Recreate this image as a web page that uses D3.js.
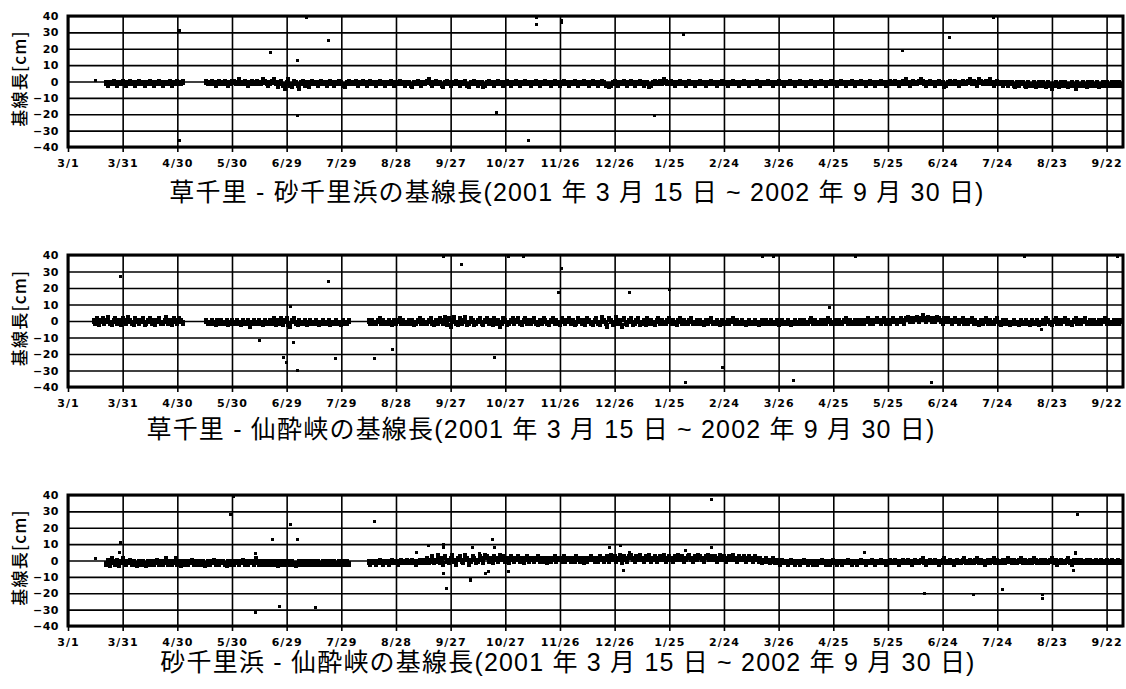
<!DOCTYPE html>
<html>
<head>
<meta charset="utf-8">
<script src="https://cdn.jsdelivr.net/npm/d3@7.9.0/dist/d3.min.js"></script>
<style>
  body { margin: 0; background: #fff; }
  svg { display: block; }
</style>
</head>
<body>
<svg width="1126" height="689"></svg>
<script>
// x tick dates (every 30 days) and y ticks
const tickDates = ["2001-03-01","2001-03-31","2001-04-30","2001-05-30","2001-06-29","2001-07-29",
  "2001-08-28","2001-09-27","2001-10-27","2001-11-26","2001-12-26","2002-01-25","2002-02-24",
  "2002-03-26","2002-04-25","2002-05-25","2002-06-24","2002-07-24","2002-08-23","2002-09-22"];
const yTicks = [-40, -30, -20, -10, 0, 10, 20, 30, 40];

const titles = [
  "草千里 - 砂千里浜の基線長(2001 年 3 月 15 日 ~ 2002 年 9 月 30 日)",
  "草千里 - 仙酔峡の基線長(2001 年 3 月 15 日 ~ 2002 年 9 月 30 日)",
  "砂千里浜 - 仙酔峡の基線長(2001 年 3 月 15 日 ~ 2002 年 9 月 30 日)"
];

// daily values [cm], one per day from the segment start date
const p1StartA = "2001-03-22";
const p1A = [
  -1,-2,-1,-1,0,-1,-2,-1,-1,0,
  -1,-2,-1,0,-1,-1,-2,-1,0,-1,
  -1,-2,-1,-1,0,-1,-2,-1,-1,0,
  -1,-2,-1,-1,-1,0,-2,-1,-1,0,
  -1,-1,0];
const p1StartB = "2001-05-16";
const p1B = [
  0,-1,-1,0,-1,-2,-1,0,-1,-1, 0,-1,-2,-1,0,0,-1,-1,1,-1,
  -1,0,-1,-2,-1,0,-1,-1,0,-1, -1,1,0,-1,-2,-1,0,1,-1,-3,
  -1,0,-2,-4,-1,1,-2,-3,0,-1, -2,-4,-1,0,-2,-1,-3,-1,0,-1,
  -1,-2,-1,0,-1,-1,-2,-1,0,-1, -2,-1,-1,0,-1,-2,-3,-1,0,-1,
  -1,-1,0,-2,-1,-1,0,-1,-2,-1, 0,-1,-1,-2,-1,0,-1,-1,-2,-1,
  -1,0,-1,-2,-1,-1,0,-1,-1,-2, -1,-1,-2,-3,-1,-1,0,-1,-2,-1,
  -1,0,1,-1,-2,-1,0,-1,-1,-2, -3,-1,0,-1,-2,-1,-1,0,-1,-2,
  -1,-1,0,-2,-3,-1,-1,0,-1,-2, -1,-1,-3,-2,-1,0,-1,-1,-2,-1,
  0,-1,-1,-2,-1,0,-1,-2,-1,-1, 0,-1,-2,-1,-1,0,-1,-1,-2,-1,
  -1,0,-1,-2,-1,-1,0,-1,-1,-2, -1,0,-1,-1,-2,-1,0,-1,-1,-2,
  -1,-1,0,-1,-2,-1,-1,0,-1,-1, -2,-1,0,-1,-1,-2,-1,0,-1,-2,
  -2,-3,-2,-1,0,-1,-2,-1,-1,0, -1,-2,-1,0,-1,-2,-1,-1,0,-1,
  -2,-1,-1,-3,-2,-1,0,-1,-1,0, -1,1,0,-1,-1,0,-1,-2,-1,-1,
  0,-1,-1,-2,-1,0,-1,-1,-2,-1, -1,0,-1,-1,-2,-1,-1,0,-1,-1,
  -2,-1,-1,0,-1,-1,-2,-1,-1,0, -1,-1,-2,-1,-1,0,-1,-1,-2,-1,
  -1,-1,0,-1,-2,-1,-1,-1,0,-1, -1,-2,-1,-1,0,-1,-1,-2,-1,-1,
  0,-1,-1,-2,-1,-1,0,-1,-1,-2, -1,-1,0,-1,-2,-1,-1,0,-1,-1,
  -2,-1,-1,0,-1,-1,-2,-1,0,-1, -1,-2,-1,-1,0,-1,-2,-1,-1,0,
  -1,-1,-2,-1,0,-1,-1,-2,-1,-1, 0,-1,-1,-2,-1,0,-1,-1,0,-1,
  -2,-1,0,-1,1,-1,-2,-1,0,-1, -1,0,1,0,-1,-2,-1,0,-1,-1,
  -2,-1,0,-1,-1,-3,-2,-1,0,-1, -1,0,-1,-2,-1,0,-1,-1,0,1,
  -1,0,-1,-2,1,0,-1,-1,0,-1, 1,-1,-2,-1,0,-1,-1,-2,-1,-1,
  -2,-1,-1,-2,-3,-1,-2,-1,-1,-2, -3,-1,-2,-2,-1,-3,-2,-1,-2,-1,
  -2,-3,-1,-2,-4,-2,-1,-2,-3,-1, -2,-1,-2,-3,-2,-1,-2,-4,-1,-2,
  -2,-1,-2,-3,-1,-2,-1,-2,-2,-1, -3,-2,-1,-2,-1,-2,-2,-1,-2,-1,
  -2,-1,-2];
// isolated points and outliers [date, cm]
const p1Out = [
  ["2001-03-16",0.5],["2001-05-01",31],["2001-05-01",-36],["2001-06-20",18],["2001-07-05",13],
  ["2001-07-05",-21],["2001-07-10",39],["2001-07-22",25],["2001-10-22",-19],["2001-11-09",-36],
  ["2001-11-13",39],["2001-11-13",35],["2001-11-27",36],["2001-11-27",37],["2002-01-17",-21],
  ["2002-02-02",29],["2002-06-02",19],["2002-06-28",27],["2002-07-22",39]];

const p2StartA = "2001-03-15";
const p2A = [
  0,-1,1,-2,0,1,-1,0,2,-1,
  -2,0,1,-1,0,-2,1,0,-1,2,
  0,-1,-2,1,0,-1,0,1,-2,-1,
  0,1,-1,0,-2,0,1,-1,-1,0,
  2,-1,0,-2,1,0,-1,1,0,-1];
const p2StartB = "2001-05-16";
const p2B = [
  0,-1,-1,0,-1,-2,0,-1,0,-1,
  -1,0,-2,-1,0,-1,-1,0,-1,-2,
  0,-1,-1,0,-3,-1,0,-1,-1,0,
  -1,-2,0,-1,-1,0,-1,1,-2,0,
  -1,1,-2,0,1,-2,-3,0,1,-1,
  -2,0,-1,-1,0,-2,-1,0,-1,-1,
  0,-1,-2,-1,0,-1,-1,0,-2,-1,
  -1,0,-1,-1,-2,0,-1,-1,0];
const p2StartC = "2001-08-13";
const p2C = [
  0,-1,0,-1,-1,0,1,-1,0,-1, -1,0,-1,-2,0,-1,0,1,-1,0,
  -1,-1,0,-1,0,-2,-1,0,1,-1, 0,-1,-1,0,1,-1,-2,0,-1,1,
  0,-1,2,-2,1,-3,0,2,-1,-2, 1,-1,0,2,-2,-1,1,0,-2,-1,
  0,1,-1,-2,0,1,-1,0,-2,1, -1,0,-3,-1,1,0,-2,-1,0,1,
  -1,0,1,-1,-2,0,1,-1,0,-1, 0,1,-1,-2,0,-1,1,0,-1,-2,
  0,1,-1,0,-1,-2,1,0,-1,0, 1,-1,0,-2,-1,1,0,-1,0,-2,
  1,0,-1,-2,0,1,-1,-2,2,0, -1,-3,1,0,-2,-1,2,-1,0,-3,
  1,-1,-2,0,1,-2,-1,0,1,-2, -1,0,-2,1,-1,0,-1,-2,0,1,
  -1,0,-1,-1,0,1,-1,0,-1,-2, 0,1,-1,0,-1,-1,0,1,-1,-1,
  0,-1,0,-1,-2,0,-1,0,1,-1, -1,0,-1,-2,0,-1,-1,0,-1,0,
  1,-1,0,-1,-1,0,-1,-2,-1,0, -1,-1,0,-1,-2,-1,0,-1,0,-1,
  -1,0,-1,-1,0,-2,-1,0,-1,-1, 0,-1,-2,-1,0,-1,-1,0,-1,0,
  -1,-1,0,1,-1,0,-1,-1,0,-1, 0,-1,1,0,-1,-1,0,-1,0,-1,
  -1,0,1,-1,0,-1,-1,0,-1,0, -1,0,-1,0,1,-1,0,-1,0,1,
  0,-1,0,1,-1,0,-1,0,1,0, -1,0,1,0,-1,1,2,0,1,0,
  1,2,0,1,3,1,0,2,1,0, 1,0,2,1,0,-1,1,0,1,0,
  -1,0,1,0,-1,0,1,-1,0,-1, 0,1,-1,0,-1,-2,0,-1,0,1,
  -1,0,-1,-1,0,1,-1,-2,0,-1, 0,-1,-2,-1,0,-1,-1,-2,0,-1,
  -1,0,-1,-2,0,-1,-1,0,-2,-1, 0,-1,1,0,-1,-2,0,1,-1,0,
  -1,0,1,-1,0,-1,-2,0,1,-1, 0,-1,0,1,-1,-1,0,-1,0,-1,
  -1,0,-1,0,1,-1,0,-1,-1,0, -1,0,-1,0];
const p2Out = [
  ["2001-03-30",27],["2001-06-14",-12],["2001-06-27",-22],["2001-06-29",-25],["2001-07-01",9],
  ["2001-07-03",-13],["2001-07-05",-30],["2001-07-22",24],["2001-07-26",-23],["2001-08-16",-23],
  ["2001-08-26",-17],["2001-09-23",39],["2001-10-03",34],["2001-10-21",-22],["2001-10-29",39],
  ["2001-11-06",39],["2001-11-25",17],["2001-11-27",32],["2002-01-03",17],["2002-01-25",19],
  ["2002-02-03",-37],["2002-02-23",-28],["2002-03-17",39],["2002-03-23",39],["2002-04-03",-36],
  ["2002-04-23",8],["2002-05-07",39],["2002-06-18",-37],["2002-08-08",39],["2002-08-17",-5],
  ["2002-09-28",39]];

const p3StartA = "2001-03-22";
const p3A = [
  -2,0,-3,1,-1,-2,0,-3,-1,1,
  -1,-2,-1,0,-2,-1,-2,-3,-1,-2,
  -1,-2,-3,-1,-2,-1,-2,-1,0,-2,
  -1,-2,-1,1,-2,-1,-2,-1,1,-2,
  -1,-3,-1,-2,-1,-2,-1,0,-2,-1,
  -2,-1,-2,-1,-3,-2,-1,-2,-1,0,
  -2,-1,-2,-1,-1,-2,-3,-1,-2,-1,
  -2,-1,-1,-2,-1,0,-2,-1,-2,-1,
  -1,-2,1,-1,-2,-1,-2,-1,-2,-1,
  -2,-1,-2,-1,-3,-1,-2,-1,-2,-1,
  -1,-2,-1,-2,-3,-2,-1,-2,-1,-2,
  -1,-2,-1,-2,-1,-2,-1,-2,-2,-1,
  -2,-1,-2,-1,-2,-1,-2,-2,-1,-2,
  -1,-2,-1,-2];
const p3StartB = "2001-08-13";
const p3B = [
  -1,-2,-1,-1,-2,-1,0,-1,-2,-1, -1,-2,-1,0,-1,-1,-2,-1,0,-1,
  -1,0,-1,-1,0,-1,-2,-1,0,-1, 0,-1,1,-1,0,2,-1,0,3,-1,
  1,-2,2,0,-1,1,3,0,-2,1, 2,0,-1,3,1,-2,0,2,1,-1,
  0,2,1,-1,3,2,0,1,-1,2, 1,0,3,1,2,0,1,-1,2,1,
  0,1,2,0,1,-1,1,2,0,1, 1,0,1,2,0,1,0,1,-1,1,
  0,1,2,0,1,1,0,2,0,1, 1,0,1,0,2,1,0,1,-1,1,
  0,1,2,1,0,1,0,2,1,0, 1,2,0,3,1,2,0,1,3,-1,
  2,1,0,2,3,1,0,2,1,3, 1,0,2,1,3,0,1,2,0,1,
  2,1,3,0,1,2,1,0,2,1, 3,1,2,0,1,2,3,1,0,2,
  1,3,2,1,0,2,3,1,2,1, 2,0,1,3,1,2,0,1,2,1,
  3,1,0,2,1,1,2,0,1,2, 1,0,2,1,0,1,-1,0,1,0,
  -1,0,1,-1,0,-1,-2,0,-1,-1, -2,-1,0,-1,-2,-1,-1,-2,-1,0,
  -1,-2,-1,-1,-2,-1,-2,-1,-1,0, -1,-2,-1,-2,-1,0,-1,-2,-1,-1,
  -2,-1,-1,0,-1,-2,-1,-1,-2,-1, 0,-1,-1,-2,-1,-1,0,-1,-2,-1,
  -1,0,-1,-1,-2,-1,0,-1,-1,0, -1,-2,-1,0,-1,-1,0,-1,-2,-1,
  0,-1,-1,0,1,-1,-2,-1,0,-1, -1,0,-1,-2,-1,0,1,-1,-1,0,
  -1,-2,-1,0,-1,-1,0,1,-1,-1, 0,-1,-1,0,1,-1,0,-1,-2,-1,
  0,-1,0,1,-1,0,-1,-1,0,-1, 0,1,0,-1,0,-1,-1,0,1,-1,
  0,-1,-1,0,-1,1,0,-1,-1,0, -1,0,-1,-1,0,1,-1,0,-2,-1,
  0,-1,-1,0,1,-1,-2,0,-1,0, -1,0,-1,-1,0,-1,0,-1,-1,0,
  -1,-1,0,-1,-1,0,-1,-1,0,-1, -1,0,-1,-1];
const p3Out = [
  ["2001-03-16",1],["2001-03-29",5],["2001-03-30",11],["2001-05-29",28],["2001-05-31",39],
  ["2001-06-12",-32],["2001-06-12",4],["2001-06-21",13],["2001-06-25",-28],["2001-07-01",22],
  ["2001-07-05",13],["2001-07-15",-29],["2001-08-16",24],["2001-09-08",5],["2001-09-15",9],
  ["2001-09-23",8],["2001-09-23",10],["2001-09-23",-8],["2001-09-25",-17],["2001-10-08",-11],
  ["2001-10-08",-12],["2001-10-09",8],["2001-10-13",4],["2001-10-16",-8],["2001-10-18",-7],
  ["2001-10-20",13],["2001-10-21",8],["2001-10-29",-7],["2001-12-23",8],["2001-12-29",9],
  ["2001-12-31",-6],["2002-01-03",5],["2002-02-03",6],["2002-02-17",37],["2002-02-17",8],
  ["2002-05-12",5],["2002-06-14",-20],["2002-07-11",-21],["2002-07-27",-18],["2002-08-18",-21],
  ["2002-08-18",-23],["2002-09-04",-6],["2002-09-05",4],["2002-09-05",5],["2002-09-06",28]];

const parse = d3.utcParse("%Y-%m-%d");
const svg = d3.select("svg");
const left = 68, right = 1123;

const x = d3.scaleUtc()
  .domain([parse("2001-03-01"), parse("2002-10-01")])
  .range([left, right]);
const ticks = tickDates.map(parse);

const panels = [
  {title: titles[0], segs: [[p1StartA, p1A], [p1StartB, p1B]], out: p1Out, top: 16, bottom: 147, tx: 577, ty: 192},
  {title: titles[1], segs: [[p2StartA, p2A], [p2StartB, p2B], [p2StartC, p2C]], out: p2Out, top: 255, bottom: 387, tx: 541, ty: 429},
  {title: titles[2], segs: [[p3StartA, p3A], [p3StartB, p3B]], out: p3Out, top: 495, bottom: 626, tx: 568, ty: 662}
];

function expand(start, vals) {
  const s = parse(start);
  return vals.map((v, i) => ({date: d3.utcDay.offset(s, i), v}));
}

const lineW = 1.6;

panels.forEach(p => {
  const y = d3.scaleLinear().domain([-40, 40]).range([p.bottom, p.top]);
  const g = svg.append("g");

  // grid lines
  const gx = g.append("g")
    .attr("transform", `translate(0,${p.bottom})`)
    .call(d3.axisBottom(x).tickValues(ticks).tickSize(-(p.bottom - p.top)).tickFormat(""));
  gx.select(".domain").remove();
  gx.selectAll("line").attr("stroke", "#000").attr("stroke-width", lineW);

  const gy = g.append("g")
    .attr("transform", `translate(${left},0)`)
    .call(d3.axisLeft(y).tickValues(yTicks).tickSize(-(right - left)).tickFormat(""));
  gy.select(".domain").remove();
  gy.selectAll("line").attr("stroke", "#000").attr("stroke-width", lineW);

  // daily band points
  const band = p.segs.flatMap(([s, v]) => expand(s, v));
  g.selectAll("rect.band").data(band).join("rect")
    .attr("class", "band")
    .attr("x", d => Math.round(x(d.date) - 2))
    .attr("y", d => Math.round(y(d.v) - 3))
    .attr("width", 4)
    .attr("height", 6)
    .attr("shape-rendering", "crispEdges")
    .attr("fill", "#000");

  // isolated points / outliers
  const out = p.out.map(([d, v]) => ({date: parse(d), v}));
  g.selectAll("rect.out").data(out).join("rect")
    .attr("class", "out")
    .attr("x", d => Math.round(x(d.date) - 1.5))
    .attr("y", d => Math.round(y(d.v) - 1.5))
    .attr("width", 3)
    .attr("height", 3)
    .attr("shape-rendering", "crispEdges")
    .attr("fill", "#000");

  // frame
  g.append("rect")
    .attr("x", left).attr("y", p.top)
    .attr("width", right - left).attr("height", p.bottom - p.top)
    .attr("fill", "none").attr("stroke", "#000").attr("stroke-width", 3);

  // x tick labels
  const xa = g.append("g")
    .attr("transform", `translate(0,${p.bottom})`)
    .call(d3.axisBottom(x).tickValues(ticks).tickSize(5).tickPadding(7)
      .tickFormat(d3.utcFormat("%-m/%-d")));
  xa.select(".domain").remove();
  xa.selectAll("line").attr("stroke", "#000").attr("stroke-width", lineW);
  xa.selectAll("text")
    .attr("font-family", "DejaVu Sans, sans-serif")
    .attr("font-size", 11)
    .attr("font-weight", "bold")
    .attr("letter-spacing", 1)
    .attr("fill", "#000");

  // y tick labels
  const ya = g.append("g")
    .attr("transform", `translate(${left},0)`)
    .call(d3.axisLeft(y).tickValues(yTicks).tickSize(0).tickPadding(9));
  ya.select(".domain").remove();
  ya.selectAll("text")
    .attr("font-family", "DejaVu Sans, sans-serif")
    .attr("font-size", 11)
    .attr("font-weight", "bold")
    .attr("letter-spacing", 0.5)
    .attr("fill", "#000");

  // y axis label
  g.append("text")
    .attr("transform", `translate(20,${(p.top + p.bottom) / 2 - 3}) rotate(-90)`)
    .attr("text-anchor", "middle")
    .attr("dy", "0.35em")
    .attr("font-family", "Noto Sans CJK JP, sans-serif")
    .attr("font-size", 17)
    .attr("font-weight", 500)
    .attr("letter-spacing", 1.2)
    .text("基線長[cm]");

  // title
  g.append("text")
    .attr("x", p.tx).attr("y", p.ty)
    .attr("dy", "0.35em")
    .attr("text-anchor", "middle")
    .attr("font-family", "Liberation Sans, Noto Sans CJK JP, sans-serif")
    .attr("font-size", 25)
    .attr("letter-spacing", 1.2)
    .text(p.title);
});
</script>
</body>
</html>
